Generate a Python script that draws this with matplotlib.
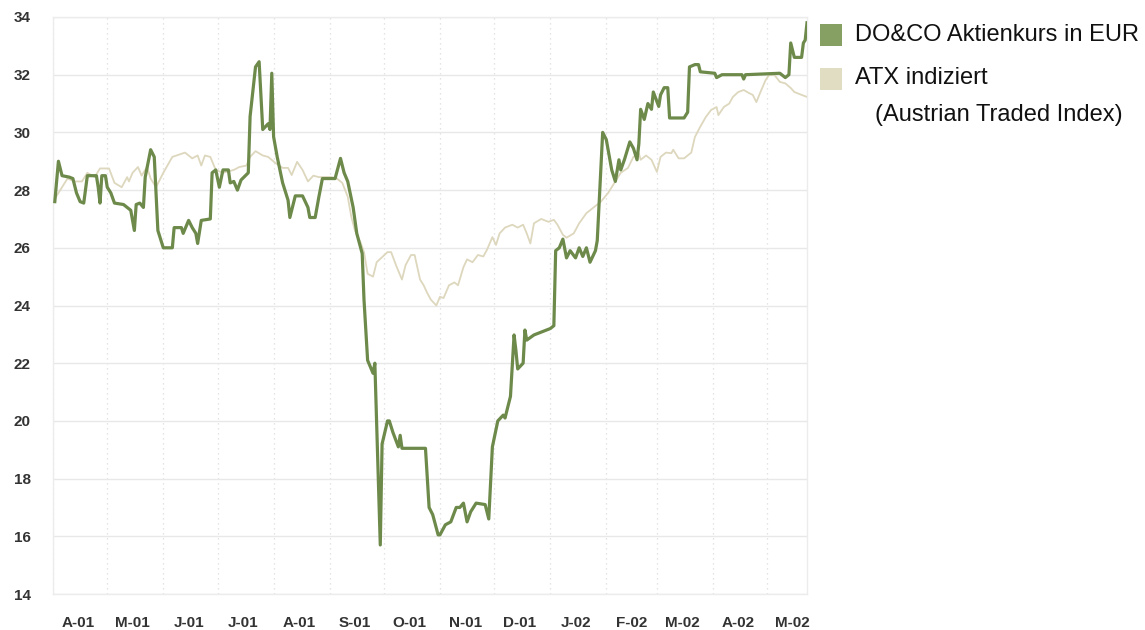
import matplotlib
matplotlib.use("Agg")
import matplotlib.pyplot as plt
from matplotlib.patches import Rectangle
import pandas as pd

# DO&CO share price in EUR
doco_dates = [
    "2001-04-02", "2001-04-04", "2001-04-06", "2001-04-10", "2001-04-12", "2001-04-14",
    "2001-04-16", "2001-04-18", "2001-04-20", "2001-04-25", "2001-04-26", "2001-04-27",
    "2001-04-28", "2001-04-30", "2001-05-01", "2001-05-03", "2001-05-05", "2001-05-10",
    "2001-05-12", "2001-05-14", "2001-05-16", "2001-05-17", "2001-05-19", "2001-05-21",
    "2001-05-22", "2001-05-25", "2001-05-27", "2001-05-28", "2001-05-29", "2001-06-01",
    "2001-06-06", "2001-06-07", "2001-06-11", "2001-06-12", "2001-06-15", "2001-06-17",
    "2001-06-19", "2001-06-20", "2001-06-22", "2001-06-27", "2001-06-28", "2001-06-30",
    "2001-07-02", "2001-07-04", "2001-07-07", "2001-07-08", "2001-07-10", "2001-07-12",
    "2001-07-14", "2001-07-18", "2001-07-19", "2001-07-21", "2001-07-22", "2001-07-24",
    "2001-07-26", "2001-07-29", "2001-07-30", "2001-07-31", "2001-08-01", "2001-08-03",
    "2001-08-06", "2001-08-09", "2001-08-10", "2001-08-13", "2001-08-17", "2001-08-20",
    "2001-08-21", "2001-08-24", "2001-08-26", "2001-08-28", "2001-09-04", "2001-09-07",
    "2001-09-09", "2001-09-11", "2001-09-12", "2001-09-14", "2001-09-16", "2001-09-19",
    "2001-09-20", "2001-09-22", "2001-09-25", "2001-09-26", "2001-09-29", "2001-09-30",
    "2001-10-03", "2001-10-04", "2001-10-06", "2001-10-09", "2001-10-10", "2001-10-11",
    "2001-10-24", "2001-10-26", "2001-10-28", "2001-10-31", "2001-11-01", "2001-11-04",
    "2001-11-07", "2001-11-10", "2001-11-12", "2001-11-14", "2001-11-16", "2001-11-18",
    "2001-11-21", "2001-11-26", "2001-11-28", "2001-11-30", "2001-12-03", "2001-12-06",
    "2001-12-07", "2001-12-10", "2001-12-12", "2001-12-13", "2001-12-14", "2001-12-17",
    "2001-12-18", "2001-12-19", "2001-12-23", "2001-12-28", "2002-01-01", "2002-01-03",
    "2002-01-04", "2002-01-06", "2002-01-08", "2002-01-10", "2002-01-12", "2002-01-15",
    "2002-01-17", "2002-01-19", "2002-01-21", "2002-01-23", "2002-01-26", "2002-01-27",
    "2002-01-30", "2002-02-01", "2002-02-04", "2002-02-06", "2002-02-08", "2002-02-09",
    "2002-02-11", "2002-02-14", "2002-02-16", "2002-02-18", "2002-02-19", "2002-02-20",
    "2002-02-22", "2002-02-24", "2002-02-26", "2002-02-27", "2002-03-02", "2002-03-03",
    "2002-03-05", "2002-03-07", "2002-03-08", "2002-03-16", "2002-03-18", "2002-03-19",
    "2002-03-22", "2002-03-24", "2002-03-25", "2002-04-02", "2002-04-03", "2002-04-06",
    "2002-04-17", "2002-04-18", "2002-04-19", "2002-05-08", "2002-05-11", "2002-05-13",
    "2002-05-14", "2002-05-16", "2002-05-20", "2002-05-21", "2002-05-22", "2002-05-23",
]
doco_values = [
    27.6, 29.0, 28.5, 28.45, 28.4, 27.9,
    27.6, 27.55, 28.5, 28.5, 28.1, 27.55,
    28.5, 28.5, 28.1, 27.9, 27.55, 27.5,
    27.4, 27.3, 26.6, 27.5, 27.55, 27.4,
    28.45, 29.4, 29.15, 27.9, 26.6, 26.0,
    26.0, 26.7, 26.7, 26.5, 26.95, 26.7,
    26.5, 26.15, 26.95, 27.0, 28.6, 28.7,
    28.1, 28.7, 28.7, 28.25, 28.3, 28.0,
    28.35, 28.6, 30.55, 31.7, 32.27, 32.45,
    30.1, 30.3, 30.1, 32.05, 29.85, 29.15,
    28.25, 27.65, 27.05, 27.8, 27.8, 27.4,
    27.05, 27.05, 27.75, 28.4, 28.4, 29.1,
    28.6, 28.3, 28.0, 27.4, 26.5, 25.8,
    24.2, 22.1, 21.65, 22.0, 15.7, 19.2,
    20.0, 20.0, 19.6, 19.1, 19.5, 19.05,
    19.05, 17.0, 16.75, 16.05, 16.05, 16.4,
    16.5, 17.0, 17.0, 17.15, 16.5, 16.85,
    17.15, 17.1, 16.6, 19.1, 20.0, 20.2,
    20.1, 20.85, 22.98, 22.45, 21.8, 22.0,
    23.15, 22.8, 22.98, 23.1, 23.2, 23.3,
    25.9, 26.0, 26.3, 25.65, 25.9, 25.65,
    26.0, 25.7, 26.0, 25.5, 25.9, 26.25,
    30.0, 29.75, 28.7, 28.3, 29.05, 28.7,
    29.05, 29.67, 29.45, 29.05, 29.6, 30.8,
    30.45, 31.0, 30.8, 31.4, 30.9, 31.3,
    31.55, 31.55, 30.5, 30.5, 30.7, 32.27,
    32.35, 32.35, 32.1, 32.05, 31.9, 32.0,
    32.0, 31.85, 32.0, 32.05, 31.9, 32.0,
    33.1, 32.6, 32.6, 33.1, 33.2, 33.8,
]

# ATX, indexed to the share price
atx_dates = [
    "2001-04-02", "2001-04-06", "2001-04-09", "2001-04-13", "2001-04-17", "2001-04-20",
    "2001-04-24", "2001-04-27", "2001-05-02", "2001-05-05", "2001-05-09", "2001-05-12",
    "2001-05-13", "2001-05-15", "2001-05-18", "2001-05-20", "2001-05-23", "2001-05-25",
    "2001-05-28", "2001-06-01", "2001-06-06", "2001-06-13", "2001-06-17", "2001-06-20",
    "2001-06-22", "2001-06-24", "2001-06-27", "2001-06-30", "2001-07-04", "2001-07-10",
    "2001-07-13", "2001-07-17", "2001-07-19", "2001-07-22", "2001-07-26", "2001-07-29",
    "2001-08-02", "2001-08-06", "2001-08-09", "2001-08-11", "2001-08-14", "2001-08-17",
    "2001-08-20", "2001-08-23", "2001-08-26", "2001-09-02", "2001-09-05", "2001-09-08",
    "2001-09-11", "2001-09-13", "2001-09-15", "2001-09-18", "2001-09-20", "2001-09-22",
    "2001-09-25", "2001-09-27", "2001-10-03", "2001-10-05", "2001-10-08", "2001-10-11",
    "2001-10-13", "2001-10-16", "2001-10-18", "2001-10-21", "2001-10-23", "2001-10-25",
    "2001-10-27", "2001-10-30", "2001-11-01", "2001-11-03", "2001-11-06", "2001-11-09",
    "2001-11-11", "2001-11-14", "2001-11-16", "2001-11-19", "2001-11-22", "2001-11-25",
    "2001-11-27", "2001-11-30", "2001-12-02", "2001-12-04", "2001-12-07", "2001-12-11",
    "2001-12-14", "2001-12-17", "2001-12-19", "2001-12-21", "2001-12-23", "2001-12-27",
    "2001-12-31", "2002-01-03", "2002-01-05", "2002-01-08", "2002-01-10", "2002-01-14",
    "2002-01-17", "2002-01-21", "2002-01-25", "2002-01-29", "2002-02-02", "2002-02-05",
    "2002-02-09", "2002-02-13", "2002-02-16", "2002-02-19", "2002-02-20", "2002-02-23",
    "2002-02-26", "2002-03-01", "2002-03-03", "2002-03-06", "2002-03-09", "2002-03-10",
    "2002-03-13", "2002-03-16", "2002-03-20", "2002-03-22", "2002-03-25", "2002-03-28",
    "2002-03-31", "2002-04-03", "2002-04-04", "2002-04-07", "2002-04-10", "2002-04-12",
    "2002-04-15", "2002-04-18", "2002-04-21", "2002-04-23", "2002-04-25", "2002-04-27",
    "2002-04-30", "2002-05-02", "2002-05-05", "2002-05-08", "2002-05-11", "2002-05-14",
    "2002-05-16", "2002-05-20", "2002-05-23",
]
atx_values = [
    27.7, 28.1, 28.4, 28.3, 28.3, 28.6,
    28.45, 28.75, 28.75, 28.25, 28.1, 28.45,
    28.3, 28.6, 28.8, 28.5, 28.8, 28.4,
    28.1, 28.6, 29.15, 29.3, 29.1, 29.2,
    28.85, 29.2, 29.15, 28.7, 28.6, 28.7,
    28.8, 28.85, 29.15, 29.35, 29.2, 29.15,
    28.94, 28.77, 28.77, 28.52, 28.98, 28.7,
    28.3, 28.5, 28.45, 28.45, 28.4, 28.25,
    27.77, 27.07, 26.6, 26.2, 25.85, 25.1,
    25.0, 25.5, 25.85, 25.85, 25.35, 24.9,
    25.4, 25.75, 25.75, 24.9, 24.7, 24.43,
    24.2, 24.0, 24.3, 24.26, 24.7, 24.8,
    24.7, 25.33, 25.6, 25.5, 25.75, 25.7,
    25.93, 26.37, 26.1, 26.5, 26.7, 26.8,
    26.7, 26.8, 26.5, 26.15, 26.85, 27.0,
    26.9, 26.97, 26.8, 26.45, 26.35, 26.5,
    26.85, 27.2, 27.4, 27.6, 27.9, 28.2,
    28.6, 28.77, 29.15, 29.28, 29.05, 29.2,
    29.05, 28.63, 29.15, 29.3, 29.28, 29.4,
    29.1, 29.1, 29.3, 29.84, 30.2, 30.53,
    30.78, 30.88, 30.6, 30.88, 31.0, 31.23,
    31.4, 31.47, 31.36, 31.3, 31.05, 31.36,
    31.8, 31.99, 31.99, 31.75, 31.7, 31.54,
    31.4, 31.3, 31.23,
]

month_labels = ["A-01", "M-01", "J-01", "J-01", "A-01", "S-01", "O-01",
                "N-01", "D-01", "J-02", "F-02", "M-02", "A-02", "M-02"]
y_ticks = [14, 16, 18, 20, 22, 24, 26, 28, 30, 32, 34]

doco_color = "#6d8a4b"
atx_color = "#ddd7bd"

plt.rcParams["font.family"] = ["Liberation Sans", "DejaVu Sans"]

fig = plt.figure(figsize=(11.45, 6.3), dpi=100)
ax = fig.add_axes([53 / 1145, 1 - 594 / 630, (807 - 53) / 1145, (594 - 17) / 630])

ax.plot(pd.to_datetime(atx_dates), atx_values, color=atx_color, lw=1.3, zorder=3)
ax.plot(pd.to_datetime(doco_dates), doco_values, color=doco_color, lw=2.3, zorder=4)

ax.set_ylim(14, 34)
ax.set_xlim(pd.Timestamp("2001-04-01"), pd.Timestamp("2002-05-23"))
ax.set_yticks(y_ticks)

# month boundaries -> dotted grid, mid-month -> labels
month_starts = pd.date_range("2001-04-01", "2002-05-01", freq="MS")
ax.set_xticks(month_starts)
ax.set_xticklabels([])
ax.set_xticks(month_starts + pd.Timedelta(days=14), minor=True)
ax.set_xticklabels(month_labels, minor=True)

ax.tick_params(axis="x", which="both", length=0)
ax.tick_params(axis="x", which="minor", pad=16, labelsize=11, labelcolor="#333333")
ax.tick_params(axis="y", length=0, pad=16, labelsize=11, labelcolor="#333333")
for lab in ax.get_xticklabels(minor=True) + ax.get_yticklabels():
    lab.set_fontweight("bold")

ax.grid(axis="y", color="#e8e8e8", lw=1.0, ls="-")
ax.grid(axis="x", which="major", color="#dcdcdc", lw=0.9, ls=(0, (1, 3)))
ax.set_axisbelow(True)
for sp in ax.spines.values():
    sp.set_color("#ececec")
    sp.set_linewidth(1.0)

# legend drawn by hand to the right of the plot
fig.add_artist(Rectangle((820 / 1145, 1 - 46 / 630), 22 / 1145, 22 / 630,
                         transform=fig.transFigure, color="#86a064", lw=0))
fig.add_artist(Rectangle((820 / 1145, 1 - 90 / 630), 22 / 1145, 22 / 630,
                         transform=fig.transFigure, color="#e0ddc3", lw=0))
fig.text(855 / 1145, 1 - 35 / 630, "DO&CO Aktienkurs in EUR", fontsize=17,
         va="center", ha="left", color="#111111")
fig.text(855 / 1145, 1 - 78 / 630, "ATX indiziert", fontsize=17,
         va="center", ha="left", color="#111111")
fig.text(875 / 1145, 1 - 115 / 630, "(Austrian Traded Index)", fontsize=17,
         va="center", ha="left", color="#111111")

fig.savefig("out.png", dpi=100)
